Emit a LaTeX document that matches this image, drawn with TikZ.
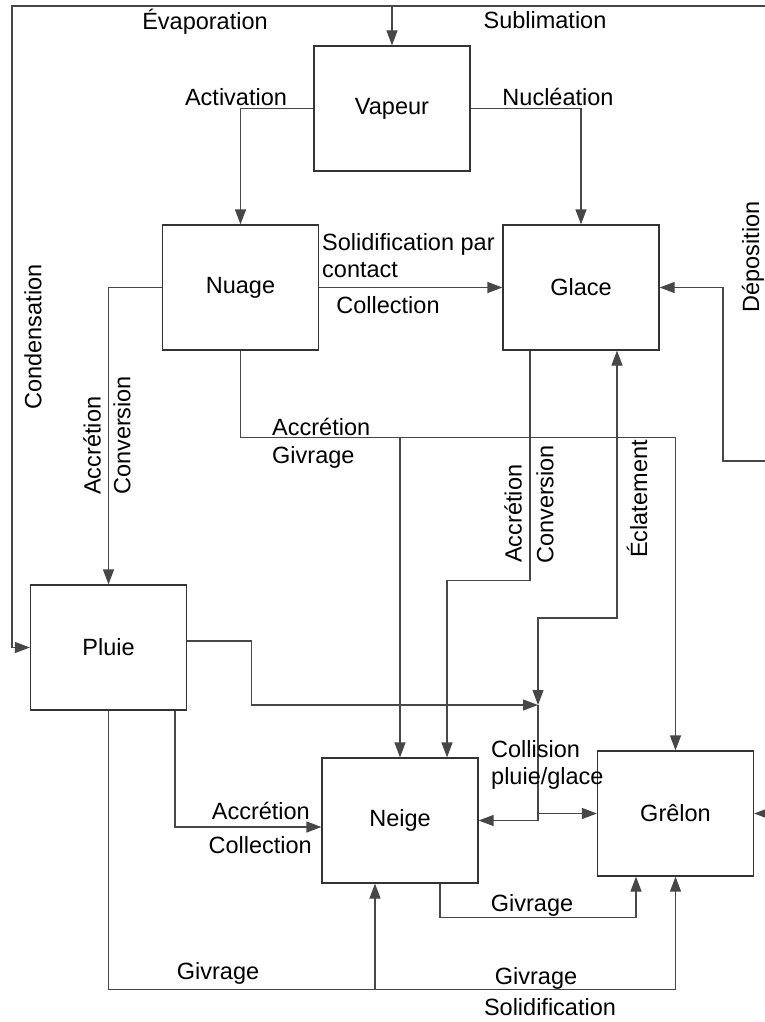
\documentclass[tikz,border=0pt]{standalone}
\usepackage{fontspec}
\setmainfont{Liberation Sans}
\usetikzlibrary{arrows.meta}

\begin{document}
\begin{tikzpicture}[x=1pt, y=-1pt, >={Triangle[length=15pt, width=11pt]},
    font=\fontsize{23.5}{27}\selectfont,
    box/.style={draw=black!80, line width=1.2pt, minimum width=156pt,
                minimum height=125pt, inner sep=0pt},
    link/.style={draw=black!72, line width=1.2pt},
    lbl/.style={inner sep=0pt}]
    \useasboundingbox (0, 0) rectangle (765, 1022);
    \clip (0, 0) rectangle (765, 1022);

    % Boxes
    \node[box] (Vap) at (392, 108.5) {Vapeur};
    \node[box] (Nua) at (240.5, 287.5) {Nuage};
    \node[box] (Gla) at (581, 287.5) {Glace};
    \node[box] (Plu) at (108.5, 647.5) {Pluie};
    \node[box] (Nei) at (400, 820.5) {Neige};
    \node[box] (Gre) at (675.5, 813.5) {Grêlon};

    % Outer loop
    \coordinate (TL) at (12, 6);
    \coordinate (TR) at (775, 6);
    \coordinate (Dep) at (775, 461);
    \draw[link, <->] (Plu.west) -| (TL) -| (Vap.north);
    \draw[link] (Vap.north |- TL) -- (TR);
    \draw[link, ->] (TR) |- (Gre.east);
    \draw[link, ->] (Dep) -- ++(-52, 0) |- (Gla.east);

    % Vapeur
    \draw[link, ->] (Vap.west) -| (Nua.north);
    \draw[link, ->] (Vap.east) -| (Gla.north);

    % Nuage
    \draw[link, ->] (Nua.east) -- (Gla.west);
    \draw[link, ->] (Nua.west) -| (Plu.north);
    \draw[link, ->] (Nua.south) -- ++(0, 87) -| (Gre.north);
    \coordinate (GivN) at (400, 437);
    \draw[link, ->] (GivN) -- (Nei.north);

    % Glace
    \draw[link, ->] ([xshift=-51pt]Gla.south) -- ++(0, 230) -| ([xshift=47pt]Nei.north);

    % Collision pluie/glace
    \coordinate (Col) at (538, 705);
    \draw[link, <->] (Col) -- ++(0, -87) -| ([xshift=36pt]Gla.south);
    \draw[link, ->] ([yshift=6.5pt]Plu.east) -- ++(64, 0) |- (Col);
    \draw[link, ->] (Col) |- (Nei.east);
    \draw[link, ->] (Col |- Gre.west) -- (Gre.west);

    % Pluie
    \draw[link, ->] ([xshift=66.5pt]Plu.south) |- ([yshift=-6.5pt]Nei.west);
    \draw[link, ->] (Plu.south) -- ++(0, 279) -| (Gre.south);
    \coordinate (GivP) at (375, 989);
    \draw[link, ->] (GivP) -- (GivP |- Nei.south);

    % Neige
    \draw[link, ->] ([xshift=40pt]Nei.south) -- ++(0, 34) -| ([xshift=-39.5pt]Gre.south);

    % Labels
    \node[lbl] (LEva) at (205, 22) {Évaporation};
    \node[lbl] (LSub) at (545, 20) {Sublimation};
    \node[lbl] (LAct) at (236, 97) {Activation};
    \node[lbl] (LNuc) at (558, 97) {Nucléation};
    \node[lbl, align=left, anchor=west] (LSol) at (322, 256) {Solidification par\\contact};
    \node[lbl] (LColl) at (388, 305) {Collection};
    \node[lbl, anchor=west] (LAccN) at (272, 427) {Accrétion};
    \node[lbl, anchor=west] (LGivN) at (272, 457) {Givrage};
    \node[lbl, rotate=90] (LCond) at (33, 337) {Condensation};
    \node[lbl, rotate=90, anchor=west] (LAccP) at (92, 495) {Accrétion};
    \node[lbl, rotate=90, anchor=west] (LConP) at (122, 495) {Conversion};
    \node[lbl, rotate=90, anchor=west] (LAccG) at (513, 563) {Accrétion};
    \node[lbl, rotate=90, anchor=west] (LConG) at (545, 564) {Conversion};
    \node[lbl, rotate=90, anchor=west] (LEcl) at (637, 558) {Éclatement};
    \node[lbl, rotate=90] (LDep) at (753, 257) {Déposition};
    \node[lbl, anchor=east] (LAccS) at (310, 811) {Accrétion};
    \node[lbl, anchor=east] (LCollS) at (312, 845) {Collection};
    \node[lbl, align=left, anchor=west] (LCol) at (491, 765) {Collision\\pluie/glace};
    \node[lbl] (LGivS) at (532, 905) {Givrage};
    \node[lbl] (LGivP) at (218, 973) {Givrage};
    \node[lbl] (LGivH) at (536, 978) {Givrage};
    \node[lbl] (LSolH) at (550, 1007) {Solidification};
\end{tikzpicture}
\end{document}
